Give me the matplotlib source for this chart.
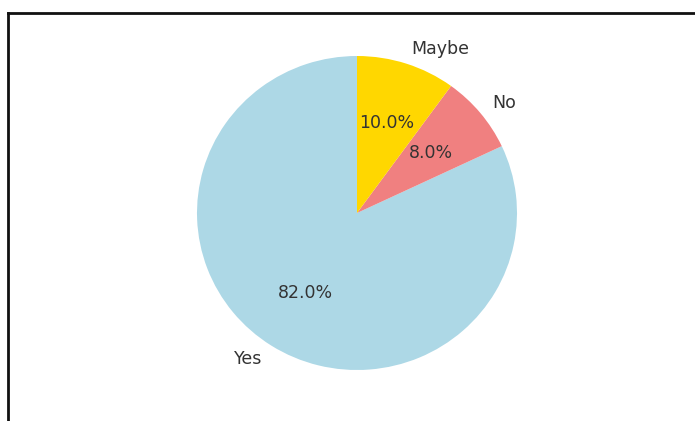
import matplotlib.pyplot as plt
from matplotlib.lines import Line2D

labels = ["Yes", "No", "Maybe"]
sizes = [82, 8, 10]
colors = ["lightblue", "lightcoral", "gold"]

W, H = 695, 421
fig = plt.figure(figsize=(W / 100, H / 100), dpi=100)

# pie centre ~ (357, 213) px from top-left, radius ~160 x 157 px
cx, cy = 357, 213
rx, ry = 160, 157
ax = fig.add_axes([(cx - 1.25 * rx) / W, (H - cy - 1.25 * ry) / H,
                   2.5 * rx / W, 2.5 * ry / H])
ax.pie(sizes, labels=labels, colors=colors, autopct="%1.1f%%", startangle=90,
       textprops={"fontsize": 12.5, "color": "#333333"})
ax.set_aspect("auto")
ax.set_xlim(-1.25, 1.25)
ax.set_ylim(-1.25, 1.25)

# screenshot frame (top and left edges)
fig.add_artist(Line2D([8 / W, 8 / W], [0, (H - 13) / H], color="#111111", lw=2,
                      transform=fig.transFigure))
fig.add_artist(Line2D([8 / W, 1], [(H - 13) / H, (H - 13) / H], color="#111111", lw=2,
                      transform=fig.transFigure))

fig.savefig("out.png", dpi=100)
